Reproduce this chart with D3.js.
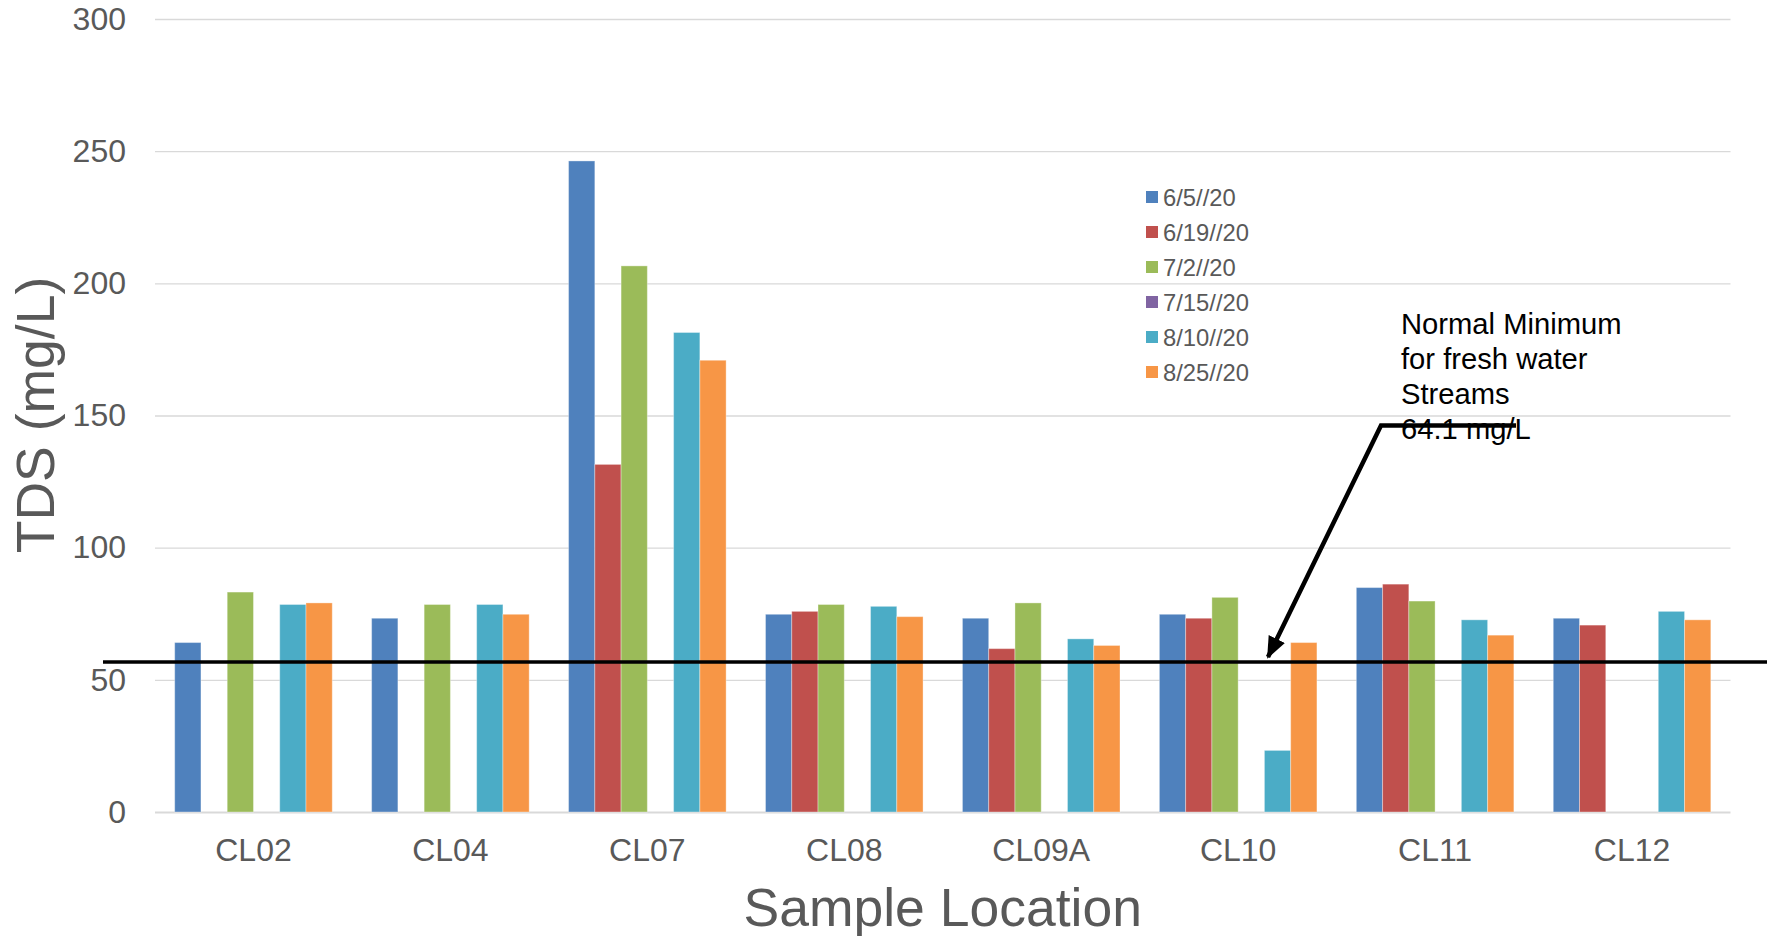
<!DOCTYPE html>
<html>
<head>
<meta charset="utf-8">
<script src="https://cdn.jsdelivr.net/npm/d3@7"></script>
<style>
  body { margin: 0; background: #fff; }
  svg { display: block; font-family: "Liberation Sans", Arial, sans-serif; }
</style>
</head>
<body>
<svg id="chart"></svg>
<script>
// ---- data ----
var categories = ["CL02", "CL04", "CL07", "CL08", "CL09A", "CL10", "CL11", "CL12"];
var seriesNames = ["6/5//20", "6/19//20", "7/2//20", "7/15//20", "8/10//20", "8/25//20"];
var seriesColors = ["#4F81BD", "#C0504D", "#9BBB59", "#8064A2", "#4BACC6", "#F79646"];

var jun05 = [64.1, 73.3, 246.3, 74.8, 73.3, 74.8, 84.9, 73.3];
var jun19 = [null, null, 131.5, 75.9, 61.8, 73.3, 86.2, 70.7];
var jul02 = [83.2, 78.5, 206.6, 78.5, 79.1, 81.2, 79.8, null];
var jul15 = [null, null, null, null, null, null, null, null];
var aug10 = [78.5, 78.5, 181.4, 77.8, 65.5, 23.3, 72.7, 75.9];
var aug25 = [79.1, 74.8, 170.9, 73.9, 63.0, 64.1, 66.9, 72.7];
var seriesValues = [jun05, jun19, jul02, jul15, aug10, aug25];

var yTicks = [0, 50, 100, 150, 200, 250, 300];
var thresholdValue = 56.7;
var noteLines = ["Normal Minimum", "for fresh water", "Streams", "64.1 mg/L"];

var width = 1770, height = 936;
var svg;

window.addEventListener("load", init);

function init() {
    svg = d3.select("#chart")
            .attr("width", width)
            .attr("height", height);

    var x = d3.scaleBand()
              .domain(categories)
              .range([155, 1730.5])
              .paddingInner(0.2)
              .paddingOuter(0.1);

    var xInner = d3.scaleBand()
                   .domain(seriesNames)
                   .range([0, x.bandwidth()]);

    var y = d3.scaleLinear()
              .domain([0, 300])
              .range([812, 19]);

    // gridlines + y tick labels
    var yAxis = d3.axisLeft(y)
                  .tickValues(yTicks)
                  .tickSize(-(x.range()[1] - x.range()[0]))
                  .tickPadding(29);

    var gy = svg.append("g")
                .attr("transform", "translate(155,0)")
                .call(yAxis);
    gy.select(".domain").remove();
    gy.selectAll(".tick line")
      .attr("stroke", "#D9D9D9")
      .attr("stroke-width", function(d) { return d === 0 ? 2 : 1.4; });
    gy.selectAll(".tick text")
      .attr("fill", "#595959")
      .attr("font-size", 32)
      .attr("font-family", "'Liberation Sans', Arial, sans-serif");

    // bars
    var rows = [];
    seriesValues.forEach(function(vals, si) {
        vals.forEach(function(v, ci) {
            if (v != null) rows.push({ cat: categories[ci], s: si, v: v });
        });
    });

    svg.append("g").selectAll("rect")
       .data(rows)
       .enter().append("rect")
       .attr("x", function(d) { return x(d.cat) + xInner(seriesNames[d.s]); })
       .attr("y", function(d) { return y(d.v); })
       .attr("width", xInner.bandwidth())
       .attr("height", function(d) { return y(0) - y(d.v); })
       .attr("fill", function(d) { return seriesColors[d.s]; })
       .attr("stroke", "rgba(255,255,255,0.35)")
       .attr("stroke-width", 1);

    // x category labels
    var xAxis = d3.axisBottom(x).tickSize(0).tickPadding(0);
    var gx = svg.append("g")
                .attr("transform", "translate(0,861)")
                .call(xAxis);
    gx.select(".domain").remove();
    gx.selectAll(".tick text")
      .attr("fill", "#595959")
      .attr("font-size", 32)
      .attr("font-family", "'Liberation Sans', Arial, sans-serif")
      .attr("dy", 0)
      .attr("y", 0);

    // axis titles
    svg.append("text")
       .attr("transform", "translate(53.5,415) rotate(-90)")
       .attr("text-anchor", "middle")
       .attr("fill", "#595959")
       .attr("font-size", 53.5)
       .text("TDS (mg/L)");

    svg.append("text")
       .attr("x", (x.range()[0] + x.range()[1]) / 2)
       .attr("y", 926)
       .attr("text-anchor", "middle")
       .attr("fill", "#595959")
       .attr("font-size", 53.5)
       .text("Sample Location");

    // legend
    var legend = svg.append("g").attr("transform", "translate(1146,197)");
    var items = legend.selectAll("g")
                      .data(seriesNames)
                      .enter().append("g")
                      .attr("transform", function(d, i) { return "translate(0," + (i * 35) + ")"; });
    items.append("rect")
         .attr("x", 0).attr("y", -6)
         .attr("width", 12).attr("height", 12)
         .attr("fill", function(d, i) { return seriesColors[i]; });
    items.append("text")
         .attr("x", 17).attr("dy", "0.36em")
         .attr("fill", "#595959")
         .attr("font-size", 23.8)
         .text(function(d) { return d; });

    // threshold line (annotation shape, wider than plot)
    svg.append("line")
       .attr("x1", 103).attr("x2", 1767)
       .attr("y1", y(thresholdValue)).attr("y2", y(thresholdValue))
       .attr("stroke", "#000")
       .attr("stroke-width", 3.5);

    // callout text
    svg.append("g").selectAll("text")
       .data(noteLines)
       .enter().append("text")
       .attr("x", 1401)
       .attr("y", function(d, i) { return 334 + i * 35; })
       .attr("fill", "#000")
       .attr("font-size", 29.2)
       .text(function(d) { return d; });

    // callout arrow
    svg.append("defs").append("marker")
       .attr("id", "head")
       .attr("markerUnits", "userSpaceOnUse")
       .attr("viewBox", "0 0 22 18")
       .attr("refX", 20).attr("refY", 9)
       .attr("markerWidth", 22).attr("markerHeight", 18)
       .attr("orient", "auto")
       .append("path")
       .attr("d", "M0,0L22,9L0,18Z")
       .attr("fill", "#000");

    svg.append("path")
       .attr("d", d3.line()([[1516, 425.5], [1381, 425.5], [1268, 657]]))
       .attr("fill", "none")
       .attr("stroke", "#000")
       .attr("stroke-width", 4.5)
       .attr("stroke-linejoin", "miter")
       .attr("marker-end", "url(#head)");
}
</script>
</body>
</html>
